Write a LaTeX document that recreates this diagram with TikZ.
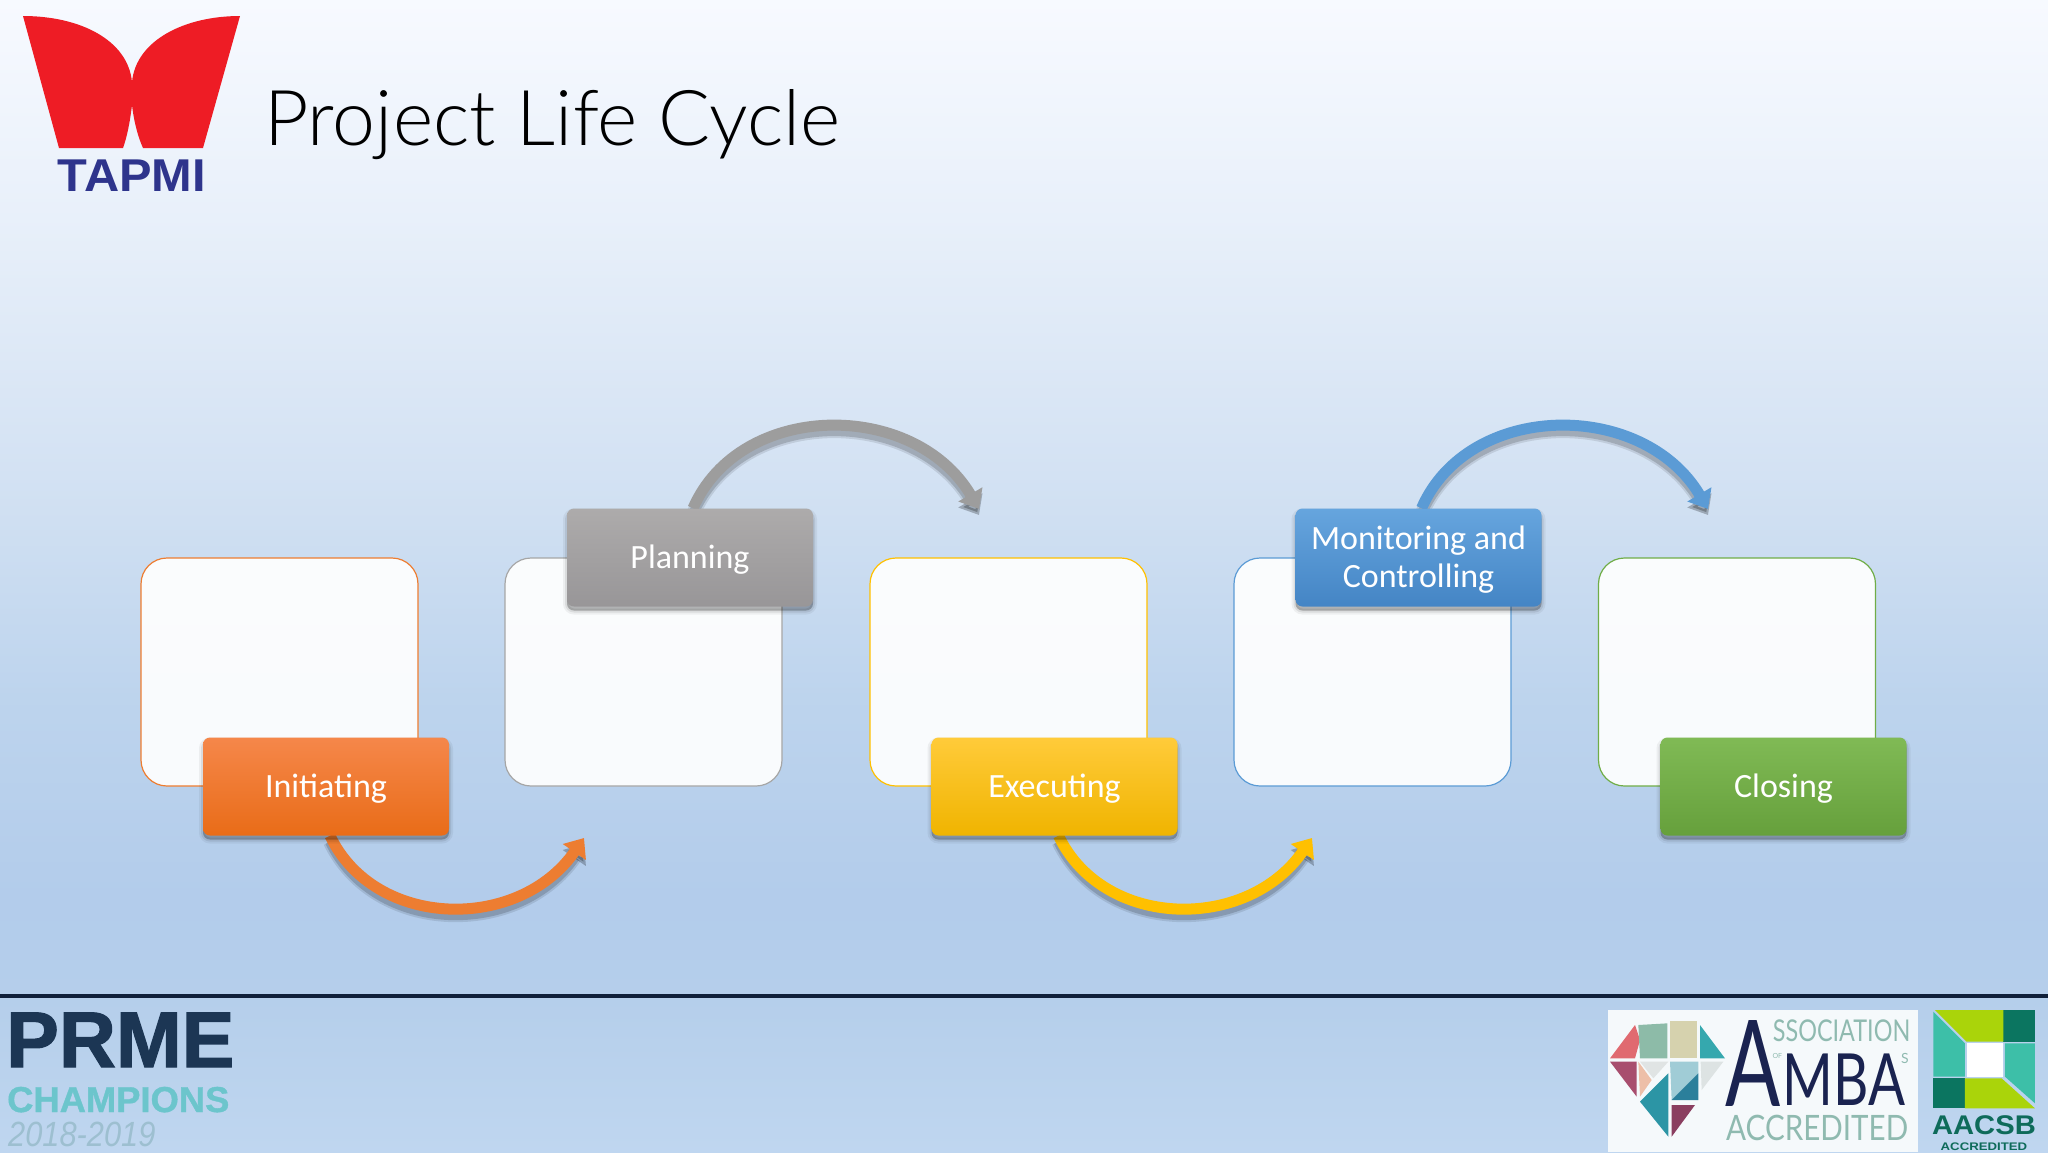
\documentclass[tikz,border=0pt]{standalone}
\usepackage{fontspec}
\setmainfont{Carlito}
\newfontfamily\logofont{Liberation Sans}
\newfontfamily\ambafont{Lato}
\newfontfamily\titlefont{Lato Light}
\newcommand{\lblshift}[1]{\raisebox{-2.5pt}[\height][\depth]{#1}}
\usetikzlibrary{arrows.meta}
\pgfdeclarelayer{base}
\pgfdeclarelayer{arr}
\pgfsetlayers{base,arr,main}
\pgfdeclareverticalshading{pagebg}{100bp}{
  rgb(0bp)=(0.75,0.84,0.94);
  rgb(25bp)=(0.75,0.84,0.94);
  rgb(31.6bp)=(0.71,0.81,0.92);
  rgb(35.9bp)=(0.70,0.80,0.92);
  rgb(44.6bp)=(0.74,0.83,0.93);
  rgb(53.3bp)=(0.82,0.88,0.95);
  rgb(65.5bp)=(0.91,0.94,0.98);
  rgb(75bp)=(0.97,0.98,1.00);
  rgb(100bp)=(0.97,0.98,1.00)}
\definecolor{cO}{HTML}{ED7D31}\definecolor{cOa}{HTML}{F5874A}\definecolor{cOb}{HTML}{F57A20}\definecolor{cOc}{HTML}{E96C18}
\definecolor{cG}{HTML}{A5A5A5}\definecolor{cGa}{HTML}{ADABAB}\definecolor{cGb}{HTML}{A6A4A4}\definecolor{cGc}{HTML}{989698}
\definecolor{cY}{HTML}{FFC000}\definecolor{cYa}{HTML}{FFCB3A}\definecolor{cYb}{HTML}{FFC107}\definecolor{cYc}{HTML}{F0B400}
\definecolor{cB}{HTML}{5B9BD5}\definecolor{cBa}{HTML}{66A5DE}\definecolor{cBb}{HTML}{4F94D8}\definecolor{cBc}{HTML}{4485C5}
\definecolor{cL}{HTML}{70AD47}\definecolor{cLa}{HTML}{80BA55}\definecolor{cLb}{HTML}{75B048}\definecolor{cLc}{HTML}{66A03C}
\definecolor{lgRed}{HTML}{EE1C25}\definecolor{lgNavy}{HTML}{2E348C}\definecolor{ruleC}{HTML}{10203A}
\definecolor{prA}{HTML}{1C3654}\definecolor{prB}{HTML}{6CC5CC}\definecolor{prC}{HTML}{9DBFD0}
\definecolor{amW}{HTML}{F5F9FB}\definecolor{amD}{HTML}{1A2350}\definecolor{amT}{HTML}{8FBAB0}
\definecolor{d1}{HTML}{E06A70}\definecolor{d2}{HTML}{8DBBA8}\definecolor{d3}{HTML}{D6D2AE}\definecolor{d4}{HTML}{35A8AE}
\definecolor{d5}{HTML}{A84E6E}\definecolor{d6}{HTML}{EDBFA8}\definecolor{d7}{HTML}{E0E4E4}\definecolor{d8}{HTML}{A0CCD6}
\definecolor{d9}{HTML}{2B7F9B}\definecolor{d10}{HTML}{DDE3E3}\definecolor{d11}{HTML}{2C95A5}\definecolor{d12}{HTML}{8A3F60}
\definecolor{acD}{HTML}{0B7560}\definecolor{acL}{HTML}{AAD40A}\definecolor{acT}{HTML}{3DBFA8}\definecolor{acX}{HTML}{0E6B5A}
\tikzset{
  whitebox/.style={draw=#1,line width=1.2pt,fill=white,fill opacity=.92,draw opacity=1,rounded corners=26pt,
    minimum width=277pt,minimum height=228pt,inner sep=0pt},
  softshadow/.style={
    preaction={draw=black,fill=black,line width=8pt,opacity=.05,transform canvas={yshift=-4pt}},
    preaction={draw=black,fill=black,line width=4pt,opacity=.08,transform canvas={yshift=-4pt}},
    preaction={fill=black,opacity=.14,transform canvas={yshift=-4pt}}},
  stepbox/.style n args={3}{softshadow,top color=#1,middle color=#2,bottom color=#3,rounded corners=7pt,
    minimum width=246pt,minimum height=98pt,inner sep=0pt,align=center,text=white,
    font=\fontsize{34}{38}\selectfont},
  flow/.style={draw=#1,line width=11pt,-{Triangle[length=17pt,width=27pt]},
    preaction={draw=black,opacity=.10,line width=14pt,transform canvas={yshift=-6pt}},
    preaction={draw=black,opacity=.16,line width=10pt,transform canvas={yshift=-6pt}}},
  piece/.style={fill=#1,draw=none},
  logotext/.style={inner sep=0pt,text=#1},
}
\begin{document}
\begin{tikzpicture}[x=1pt,y=-1pt]
\useasboundingbox (0,0) rectangle (2048,1152);
\begin{pgfonlayer}{base}
\shade[shading=pagebg] (0,0) rectangle (2048,1152);
\node[whitebox=cO] (b1) at (279.5,672) {};
\node[whitebox=gray!70] (b2) at (643.5,672) {};
\node[whitebox=cY] (b3) at (1008.5,672) {};
\node[whitebox=cB] (b4) at (1372.5,672) {};
\node[whitebox=cL] (b5) at (1737,672) {};
\end{pgfonlayer}

% step nodes
\node[stepbox={cOa}{cOb}{cOc}] (n1) at (326,786.5) {\lblshift{Initiating}};
\node[stepbox={cGa}{cGb}{cGc}] (n2) at (690,557.5) {\lblshift{Planning}};
\node[stepbox={cYa}{cYb}{cYc}] (n3) at (1054.5,786.5) {\lblshift{Executing}};
\node[stepbox={cBa}{cBb}{cBc}] (n4) at (1418.5,557.5) {\lblshift{Monitoring and}\\\lblshift{Controlling}};
\node[stepbox={cLa}{cLb}{cLc}] (n5) at (1783.5,786.5) {\lblshift{Closing}};

% arrows
\coordinate (e1) at (584,838);
\coordinate (e2) at (979,509);
\coordinate (e3) at (1312,838);
\coordinate (e4) at (1708,509);
\begin{pgfonlayer}{arr}
\draw[flow=cO] ([xshift=4pt]n1.south) .. controls +(45,94) and +(-65,94) .. (e1);
\draw[flow=cG!95!black] ([xshift=3pt]n2.north) .. controls +(47,-108) and +(-65,-110) .. (e2);
\draw[flow=cY] ([xshift=4pt]n3.south) .. controls +(45,94) and +(-65,94) .. (e3);
\draw[flow=cB] ([xshift=3pt]n4.north) .. controls +(47,-108) and +(-65,-110) .. (e4);
\end{pgfonlayer}

% title
\node[anchor=base west,inner sep=0pt,text=black,font=\titlefont\fontsize{77}{84}\selectfont] (title) at (264,145) {Project Life Cycle};

% TAPMI logo
\fill[lgRed] (23,16) .. controls (80,16) and (128,40) .. (132,82) -- (132,105) .. controls (130,122) and (127,137) .. (123,148) -- (59,148) -- cycle;
\fill[lgRed] (240,16) .. controls (185,16) and (136,40) .. (132,82) -- (132,105) .. controls (134,122) and (138,137) .. (143,148) -- (203,148) -- cycle;
\node[logotext=lgNavy,font=\logofont\bfseries\fontsize{46}{46}\selectfont] (tapmi) at (132,176) {\scalebox{1.06}[1]{TAPMI}};

% footer rule
\coordinate (ruleL) at (0,996);
\coordinate (ruleR) at (2048,996);
\draw[line width=4pt,draw=ruleC] (ruleL) -- (ruleR);

% PRME logo
\node[anchor=base west,logotext=prA,font=\logofont\bfseries\fontsize{79}{79}\selectfont\addfontfeature{FakeBold=1.5}] (prme) at (6,1067) {PRME};
\node[anchor=base west,logotext=prB,font=\logofont\bfseries\fontsize{36}{36}\selectfont\addfontfeature{FakeBold=1}] (champ) at (7,1112) {\scalebox{1.01}[1]{CHAMPIONS}};
\node[anchor=base west,logotext=prC,font=\logofont\itshape\fontsize{35}{35}\selectfont] (years) at (8,1146) {\scalebox{.88}[1]{2018-2019}};

% AMBA and AACSB logos, coordinates read at 3x from x=1590, y=990
\begin{scope}[shift={(1590,990)},x=.3333pt,y=-.3333pt]
\fill[amW] (55,60) rectangle (985,486);
\fill[piece=d1] (135,105) -- (60,205) -- (135,205) -- (150,150) -- cycle;
\fill[piece=d2] (145,105) -- (232,100) -- (232,205) -- (150,205) -- cycle;
\fill[piece=d3] (240,92) -- (320,92) -- (320,205) -- (240,205) -- cycle;
\fill[piece=d4] (330,105) -- (405,205) -- (330,205) -- cycle;
\fill[piece=d5] (60,215) -- (140,215) -- (140,320) -- cycle;
\fill[piece=d6] (145,215) -- (185,270) -- (150,320) -- cycle;
\fill[piece=d7] (150,215) -- (235,215) -- (190,265) -- cycle;
\fill[piece=d8] (240,215) -- (325,215) -- (325,250) -- (245,330) -- cycle;
\fill[piece=d9] (245,330) -- (325,250) -- (325,330) -- cycle;
\fill[piece=d10] (332,215) -- (400,215) -- (335,300) -- cycle;
\fill[piece=d11] (150,335) -- (235,250) -- (235,440) -- cycle;
\fill[piece=d12] (245,345) -- (315,345) -- (245,440) -- cycle;
\node[anchor=base west,logotext=amD,font=\ambafont\fontsize{120}{120}\selectfont] (bigA) at (405,350) {\scalebox{.68}[1]{A}};
\node[anchor=base west,logotext=amD,font=\ambafont\fontsize{72}{72}\selectfont] (mba) at (578,347) {\scalebox{.76}[1]{MBA}};
\node[anchor=base west,logotext=amT,font=\ambafont\fontsize{30}{30}\selectfont] (ssoc) at (548,155) {\scalebox{.78}[1]{SSOCIATION}};
\node[logotext=amT,font=\ambafont\fontsize{7}{7}\selectfont] (amof) at (562,197) {OF};
\node[logotext=amT,font=\ambafont\fontsize{14}{14}\selectfont] (ams) at (945,205) {S};
\node[anchor=base west,logotext=amT,font=\ambafont\fontsize{35}{35}\selectfont] (accr) at (408,450) {\scalebox{.845}[1]{ACCREDITED}};
% AACSB
\fill[piece=acD] (1240,60) rectangle (1335,155);
\fill[piece=acD] (1030,265) rectangle (1125,355);
\fill[piece=acL] (1035,60) -- (1240,60) -- (1240,155) -- (1130,155) -- cycle;
\fill[piece=acL] (1125,265) -- (1235,265) -- (1335,355) -- (1125,355) -- cycle;
\fill[piece=acT] (1030,65) -- (1125,160) -- (1125,260) -- (1030,260) -- cycle;
\fill[piece=acT] (1245,160) -- (1335,160) -- (1335,340) -- (1245,260) -- cycle;
\fill[piece=white] (1130,160) rectangle (1240,260);
\node[anchor=base,logotext=acX,font=\logofont\bfseries\fontsize{27}{27}\selectfont] (aacsb) at (1182,433) {\scalebox{1.08}[1]{AACSB}};
\node[anchor=base,logotext=acX,font=\logofont\bfseries\fontsize{11}{11}\selectfont] (aacc) at (1182,480) {\scalebox{1.2}[1]{ACCREDITED}};
\end{scope}
\end{tikzpicture}
\end{document}
